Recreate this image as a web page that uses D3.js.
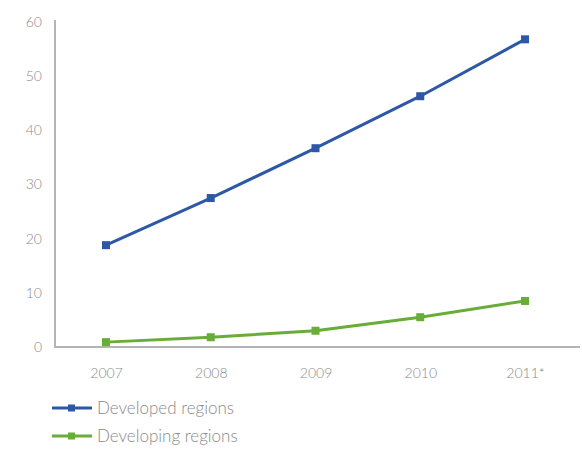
<!DOCTYPE html>
<html>
<head>
<meta charset="utf-8">
<script src="https://cdn.jsdelivr.net/npm/d3@7"></script>
<style>
  body { margin: 0; background: #fff; }
  svg text { font-family: Lato, "Open Sans", sans-serif; font-weight: 300; fill: #8a8a8a; }
</style>
</head>
<body>
<svg></svg>
<script>
const years = ["2007", "2008", "2009", "2010", "2011*"];
const developed = [18.8, 27.5, 36.7, 46.3, 56.8];
const developing = [0.9, 1.8, 3.0, 5.5, 8.5];
const yTicks = [0, 10, 20, 30, 40, 50, 60];
const seriesNames = ["Developed regions", "Developing regions"];
const colors = ["#2e58a6", "#67ad38"];

const width = 582;
const height = 449;

const svg = d3.select("svg")
    .attr("width", width)
    .attr("height", height);

const xScale = d3.scalePoint()
    .domain(years)
    .range([106, 525]);

const yScale = d3.scaleLinear()
    .domain([0, 60])
    .range([347, 22]);

const line = d3.line()
    .x(d => xScale(d.x))
    .y(d => yScale(d.y));

// axes
const yAxis = svg.append("g")
    .attr("transform", "translate(55,0)")
    .call(d3.axisLeft(yScale).tickValues(yTicks).tickSize(0).tickPadding(13));
yAxis.select(".domain").attr("stroke", "#b4b4b4").attr("stroke-width", 2)
    .attr("d", `M0,${yScale(60) - 2}V${yScale(0)}`);
yAxis.selectAll("text").attr("font-size", 14).attr("fill", "#8a8a8a");

const xAxis = svg.append("g")
    .attr("transform", `translate(0,${yScale(0)})`)
    .call(d3.axisBottom(xScale).tickSize(0).tickPadding(21));
xAxis.select(".domain").attr("stroke", "#b4b4b4").attr("stroke-width", 2)
    .attr("d", "M54,0H580");
xAxis.selectAll("text").attr("font-size", 14).attr("fill", "#8a8a8a");

// series
[developed, developing].forEach((values, i) => {
    const data = values.map((v, j) => ({ x: years[j], y: v }));
    svg.append("path")
        .datum(data)
        .attr("fill", "none")
        .attr("stroke", colors[i])
        .attr("stroke-width", 3)
        .attr("stroke-linejoin", "round")
        .attr("d", line);
    svg.selectAll(`rect.m${i}`)
        .data(data)
        .enter()
        .append("rect")
        .attr("class", `m${i}`)
        .attr("x", d => xScale(d.x) - 4)
        .attr("y", d => yScale(d.y) - 4)
        .attr("width", 8)
        .attr("height", 8)
        .attr("fill", colors[i]);
});

// legend
const legend = svg.append("g");
seriesNames.forEach((name, i) => {
    const y = 408 + i * 28;
    legend.append("line")
        .attr("x1", 52).attr("x2", 92)
        .attr("y1", y).attr("y2", y)
        .attr("stroke", colors[i])
        .attr("stroke-width", 3);
    legend.append("rect")
        .attr("x", 68).attr("y", y - 3.5)
        .attr("width", 7).attr("height", 7)
        .attr("fill", colors[i]);
    legend.append("text")
        .attr("x", 97)
        .attr("y", y)
        .attr("dy", "0.35em")
        .attr("font-size", 17)
        .attr("fill", "#7a7a7a")
        .text(name);
});
</script>
</body>
</html>
